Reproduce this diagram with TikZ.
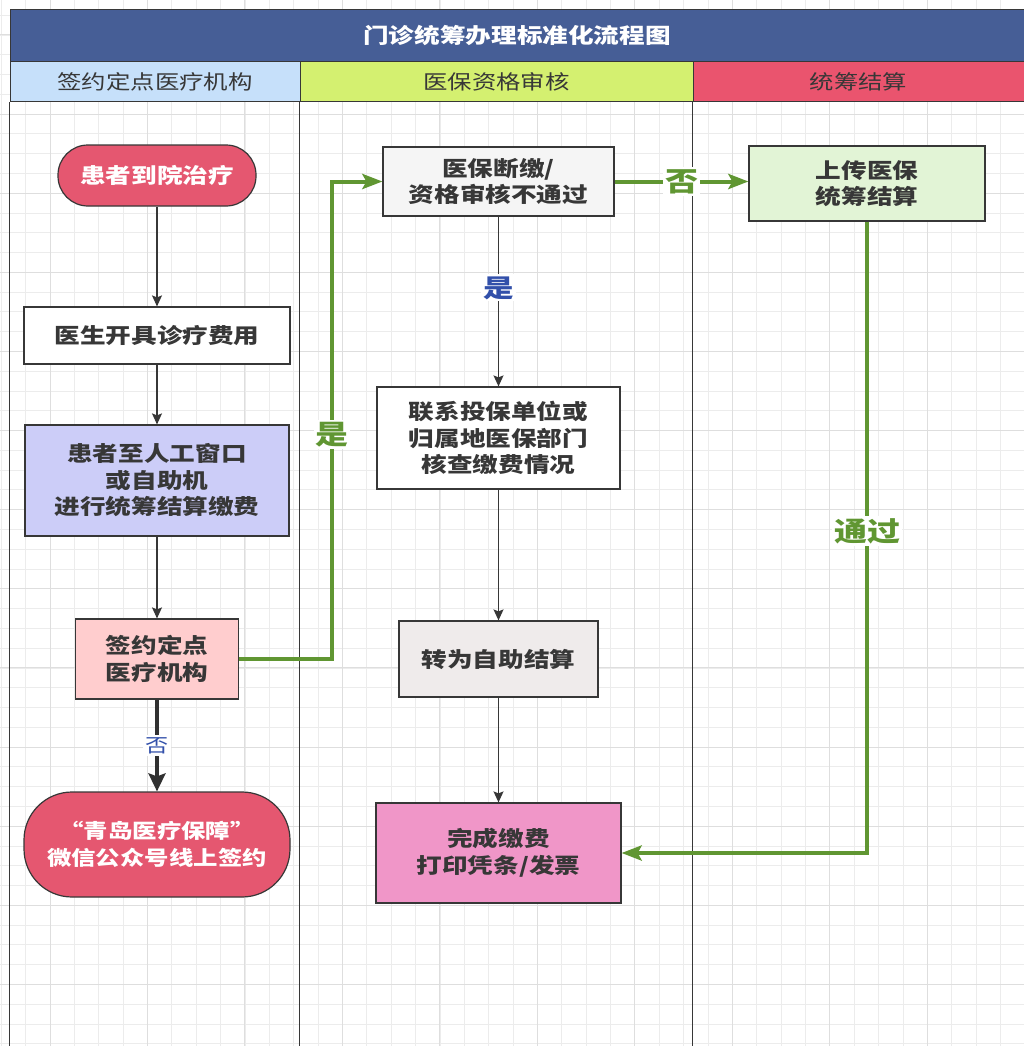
\documentclass[tikz,border=0pt]{standalone}
\usepackage{fontspec}
\setmainfont{Noto Sans CJK SC}[FakeStretch=1.22]
\usepackage{tikz}
\usetikzlibrary{positioning,calc}
\usetikzlibrary{arrows.meta}
\definecolor{TitleBlue}{RGB}{70,94,150}
\definecolor{HeadBlue}{RGB}{198,224,250}
\definecolor{HeadLime}{RGB}{212,240,112}
\definecolor{HeadRed}{RGB}{234,84,110}
\definecolor{PillRed}{RGB}{229,87,112}
\definecolor{Lavender}{RGB}{204,205,248}
\definecolor{SoftPink}{RGB}{255,205,206}
\definecolor{SoftGray}{RGB}{245,245,245}
\definecolor{WarmGray}{RGB}{239,235,235}
\definecolor{Orchid}{RGB}{240,150,200}
\definecolor{MintGreen}{RGB}{226,244,214}
\definecolor{FlowGreen}{RGB}{96,150,50}
\definecolor{LabelBlue}{RGB}{50,80,170}
\definecolor{InkGray}{RGB}{55,55,55}
\definecolor{GridMinor}{RGB}{236,236,236}
\definecolor{GridMajor}{RGB}{222,222,222}
\newcommand\boxfont{\fontsize{21}{26.5}\selectfont\bfseries}
\tikzset{
	gridline/.style={draw=GridMinor,line width=0.8pt},
	gridmajor/.style={draw=GridMajor,line width=1pt},
	laneline/.style={draw=InkGray,line width=1.8pt},
	lanehead/.style={draw=InkGray,line width=1pt,minimum height=40pt,inner sep=0pt,
		text=InkGray,font=\fontsize{20}{24}\selectfont},
	box/.style={rectangle,draw=InkGray,line width=1.2pt,text=InkGray,font=\boxfont,
		align=center,inner sep=0pt},
	pill/.style={box,fill=PillRed,text=white,rounded corners=#1},
	flow/.style={draw=InkGray,line width=1.2pt,-{Stealth[length=11pt,width=10pt,inset=2pt]}},
	flowbold/.style={draw=InkGray!90!black,line width=3.5pt,-{Stealth[length=18pt,width=17pt,inset=3pt]}},
	greenflow/.style={draw=FlowGreen,line width=4pt,-{Stealth[length=20pt,width=15pt,inset=4pt]}},
	glabel/.style={fill=white,inner sep=2pt,text=FlowGreen,font=\fontsize{27}{30}\selectfont\bfseries},
	blabel/.style={fill=white,inner sep=2pt,text=LabelBlue,font=\fontsize{25}{28}\selectfont\bfseries},
	nlabel/.style={fill=white,inner sep=2pt,text=LabelBlue,font=\fontsize{19}{22}\selectfont},
}

\begin{document}
\begin{tikzpicture}[x=1pt,y=-1pt]
	\useasboundingbox (0,0) rectangle (1024,1046);
	\fill[white] (0,0) rectangle (1024,1046);
	\foreach \k in {0,...,42}
		\draw[gridline] ({1.26+24.37*\k},0) -- ({1.26+24.37*\k},1046);
	\foreach \k in {0,...,52}
		\draw[gridline] (0,{15.16+19.78*\k}) -- (1024,{15.16+19.78*\k});
	\foreach \k in {2,6,...,42}
		\draw[gridmajor] ({1.26+24.37*\k},0) -- ({1.26+24.37*\k},1046);
	\foreach \k in {1,5,...,49}
		\draw[gridmajor] (0,{15.16+19.78*\k}) -- (1024,{15.16+19.78*\k});

	\node[draw=InkGray,line width=1pt,fill=TitleBlue,text=white,minimum width=1014pt,minimum height=52pt,
		inner sep=0pt,font=\fontsize{21}{24}\selectfont\bfseries] (title) at (517,36) {门诊统筹办理标准化流程图};
	\node[lanehead,fill=HeadBlue,minimum width=290pt] (laneA) at (155,82) {签约定点医疗机构};
	\node[lanehead,fill=HeadLime,minimum width=393pt] (laneB) at (496.5,82) {医保资格审核};
	\node[lanehead,fill=HeadRed,minimum width=331pt] (laneC) at (858.5,82) {统筹结算};
	\draw[laneline] (laneA.south west) -- (laneA.south west |- 0,1046);
	\draw[laneline] (laneB.south west) -- (laneB.south west |- 0,1046);
	\draw[laneline] (laneC.south west) -- (laneC.south west |- 0,1046);

	\node[pill=30pt,minimum width=198pt,minimum height=61pt] (start) at (157,175.5) {患者到院治疗};
	\node[box,fill=white,minimum width=266pt,minimum height=57pt] (doctor) at (157,335.5) {医生开具诊疗费用};
	\node[box,fill=Lavender,minimum width=264pt,minimum height=111pt] (window) at (157,480.5)
		{患者至人工窗口\\或自助机\\进行统筹结算缴费};
	\node[box,fill=SoftPink,minimum width=163pt,minimum height=80pt] (sign) at (157,659) {签约定点\\医疗机构};
	\node[pill=48pt,minimum width=266pt,minimum height=105pt,font=\fontsize{20}{26.5}\selectfont\bfseries]
		(online) at (157,844.5) {“青岛医疗保障”\\微信公众号线上签约};

	\node[box,fill=SoftGray,minimum width=231pt,minimum height=69pt] (check) at (498.5,181.5)
		{医保断缴/\\资格审核不通过};
	\node[box,fill=white,minimum width=243pt,minimum height=102pt] (contact) at (498.5,438)
		{联系投保单位或\\归属地医保部门\\核查缴费情况};
	\node[box,fill=WarmGray,minimum width=199pt,minimum height=76pt] (self) at (498.5,659) {转为自助结算};
	\node[box,fill=Orchid,minimum width=245pt,minimum height=100pt] (pay) at (498.5,853)
		{完成缴费\\打印凭条/发票};

	\node[box,fill=MintGreen,minimum width=236pt,minimum height=75pt] (upload) at (867,183.5)
		{上传医保\\统筹结算};

	\coordinate (turn) at (332,659);

	\draw[flow] (start) -- (doctor);
	\draw[flow] (doctor) -- (window);
	\draw[flow] (window) -- (sign);
	\draw[flowbold] (sign) -- node[nlabel]{否} (online);
	\draw[greenflow] (sign.east) -- (turn) -- node[pos=0.47,glabel]{是} (turn |- check.west) -- (check.west);
	\draw[greenflow] (check.east) -- node[glabel]{否} (check.east -| upload.west);
	\draw[flow] (check) -- node[pos=0.42,blabel]{是} (contact);
	\draw[flow] (contact) -- (self);
	\draw[flow] (self) -- (pay);
	\draw[greenflow] (upload.south) -- node[pos=0.49,glabel]{通过} (upload.south |- pay.east) -- (pay.east);
\end{tikzpicture}
\end{document}
